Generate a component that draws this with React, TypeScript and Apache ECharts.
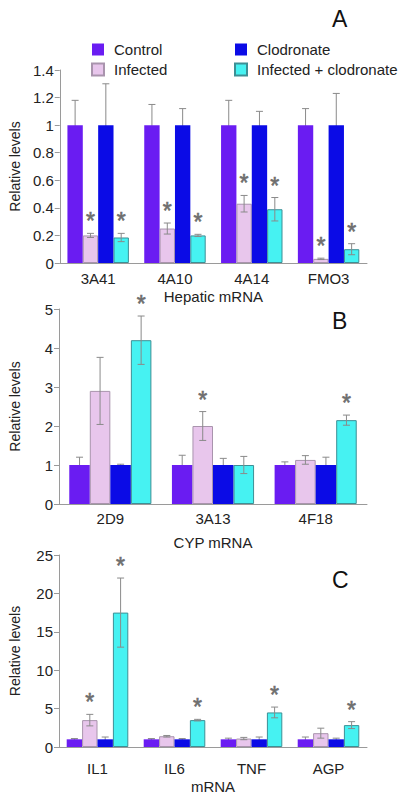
import React, { useEffect, useRef } from "react";
import * as echarts from "echarts";

const FONT = "Liberation Sans, Arial, Helvetica, sans-serif";

const seriesNames = ["Control", "Infected", "Clodronate", "Infected + clodronate"];
const colors = ["#6a1cf2", "#e8c6ec", "#0b0be6", "#46f2f2"];
const borders = ["#6a1cf2", "#a994ad", "#0b0be6", "#3d8f95"];

// Panel A
const catsA = ["3A41", "4A10", "4A14", "FMO3"];
const controlA = [1, 1, 1, 1];
const controlSdA = [0.18, 0.15, 0.18, 0.12];
const infectedA = [0.2, 0.25, 0.43, 0.03];
const infectedSdA = [0.015, 0.04, 0.06, 0.005];
const clodA = [1, 1, 1, 1];
const clodSdA = [0.3, 0.12, 0.1, 0.23];
const infClodA = [0.185, 0.2, 0.39, 0.1];
const infClodSdA = [0.03, 0.008, 0.085, 0.04];
const sigInfectedA = [1, 1, 1, 1];
const sigInfClodA = [1, 1, 1, 1];
const ticksA = { min: 0, max: 1.4, interval: 0.2 };

// Panel B
const catsB = ["2D9", "3A13", "4F18"];
const controlB = [1, 1, 1];
const controlSdB = [0.2, 0.25, 0.08];
const infectedB = [2.9, 2.0, 1.13];
const infectedSdB = [0.86, 0.37, 0.11];
const clodB = [1, 1, 1];
const clodSdB = [0.02, 0.17, 0.2];
const infClodB = [4.2, 1.0, 2.15];
const infClodSdB = [0.62, 0.22, 0.13];
const sigInfectedB = [0, 1, 0];
const sigInfClodB = [1, 0, 1];
const ticksB = { min: 0, max: 5, interval: 1 };

// Panel C
const catsC = ["IL1", "IL6", "TNF", "AGP"];
const controlC = [1, 1, 1, 1];
const controlSdC = [0.1, 0.1, 0.15, 0.3];
const infectedC = [3.5, 1.4, 1.1, 1.8];
const infectedSdC = [0.75, 0.1, 0.15, 0.65];
const clodC = [1, 1, 1, 1];
const clodSdC = [0.3, 0.1, 0.3, 0.15];
const infClodC = [17.5, 3.5, 4.5, 2.85];
const infClodSdC = [4.5, 0.1, 0.7, 0.45];
const sigInfectedC = [1, 0, 0, 0];
const sigInfClodC = [1, 1, 1, 1];
const ticksC = { min: 0, max: 25, interval: 5 };

const panels = [
  {
    letter: "A", cats: catsA, xName: "Hepatic mRNA", ticks: ticksA,
    vals: [controlA, infectedA, clodA, infClodA],
    sds: [controlSdA, infectedSdA, clodSdA, infClodSdA],
    sigs: [null, sigInfectedA, null, sigInfClodA],
    grid: { left: 52, right: 33, top: 70, height: 193 },
    labelMargin: 8, nameGap: 26, letterTop: 2,
  },
  {
    letter: "B", cats: catsB, xName: "CYP mRNA", ticks: ticksB,
    vals: [controlB, infectedB, clodB, infClodB],
    sds: [controlSdB, infectedSdB, clodSdB, infClodSdB],
    sigs: [null, sigInfectedB, null, sigInfClodB],
    grid: { left: 52, right: 33, top: 309, height: 195 },
    labelMargin: 7, nameGap: 31, letterTop: 304,
  },
  {
    letter: "C", cats: catsC, xName: "mRNA", ticks: ticksC,
    vals: [controlC, infectedC, clodC, infClodC],
    sds: [controlSdC, infectedSdC, clodSdC, infClodSdC],
    sigs: [null, sigInfectedC, null, sigInfClodC],
    grid: { left: 52, right: 33, top: 555, height: 195 },
    labelMargin: 14, nameGap: 32, letterTop: 563,
  },
];

const GAP = 0.2;

function errRender(params: any, api: any) {
  const cat = api.value(0);
  const v = api.value(1);
  const sd = api.value(2);
  const sig = api.value(3);
  const s = api.value(4);
  const band = api.size([1, 0])[0];
  const bw = (band * (1 - GAP)) / 4;
  const x = api.coord([cat, v])[0] + (s - 1.5) * bw;
  const yHi = api.coord([cat, v + sd])[1];
  const yLo = api.coord([cat, Math.max(0, v - sd)])[1];
  const cap = 3.5;
  const st = { stroke: "#8a8a8a", lineWidth: 1 };
  const children: any[] = [
    { type: "line", shape: { x1: x, y1: yLo, x2: x, y2: yHi }, style: st },
    { type: "line", shape: { x1: x - cap, y1: yHi, x2: x + cap, y2: yHi }, style: st },
    { type: "line", shape: { x1: x - cap, y1: yLo, x2: x + cap, y2: yLo }, style: st },
  ];
  if (sig) {
    children.push({
      type: "text",
      style: {
        text: "*", x: x, y: yHi - 12, align: "center", verticalAlign: "middle",
        fontSize: 23, fontFamily: FONT, fill: "#6e6e6e",
        stroke: "#6e6e6e", lineWidth: 0.6,
      },
    });
  }
  return { type: "group", children };
}

export default function App() {
  const ref = useRef<HTMLDivElement>(null);
  useEffect(() => {
    if (!ref.current) return;
    const chart = echarts.init(ref.current, null, { renderer: "svg" });
    const grids: any[] = [];
    const xAxes: any[] = [];
    const yAxes: any[] = [];
    const series: any[] = [];
    const titles: any[] = [];
    panels.forEach((p, pi) => {
      grids.push(p.grid);
      titles.push({
        text: p.letter, left: 327, top: p.letterTop,
        textStyle: { fontSize: 23, fontWeight: "normal", fontFamily: FONT, color: "#111" },
      });
      xAxes.push({
        type: "category", gridIndex: pi, data: p.cats,
        name: p.xName, nameLocation: "middle", nameGap: p.nameGap,
        nameTextStyle: { fontSize: 15, fontFamily: FONT, color: "#222" },
        axisLine: { lineStyle: { color: "#9a9a9a", width: 1 } },
        axisTick: { show: false },
        axisLabel: { fontSize: 15, fontFamily: FONT, color: "#222", margin: p.labelMargin },
      });
      yAxes.push({
        type: "value", gridIndex: pi, min: p.ticks.min, max: p.ticks.max, interval: p.ticks.interval,
        name: "Relative levels", nameLocation: "middle", nameRotate: 90, nameGap: 37,
        nameTextStyle: { fontSize: 14, fontFamily: FONT, color: "#222" },
        axisLine: { show: true, lineStyle: { color: "#9a9a9a", width: 1 } },
        axisTick: { show: true, length: 5, lineStyle: { color: "#9a9a9a" } },
        splitLine: { show: false },
        axisLabel: { fontSize: 15, fontFamily: FONT, color: "#222", margin: 6 },
      });
      const backData: any[] = [];
      const frontData: any[] = [];
      p.vals.forEach((vals, s) => {
        series.push({
          type: "bar", name: seriesNames[s], xAxisIndex: pi, yAxisIndex: pi,
          data: vals, barGap: "0%", barCategoryGap: GAP * 100 + "%",
          itemStyle: { color: colors[s], borderColor: borders[s], borderWidth: s % 2 === 1 ? 1 : 0 },
          z: 2,
        });
        vals.forEach((v, i) => {
          const sig = p.sigs[s] ? (p.sigs[s] as number[])[i] : 0;
          const row = [i, v, p.sds[s][i], sig, s];
          if (s % 2 === 1) frontData.push(row); else backData.push(row);
        });
      });
      series.push({
        type: "custom", xAxisIndex: pi, yAxisIndex: pi, renderItem: errRender,
        data: backData, encode: { x: 0, y: 1 }, z: 1, silent: true,
      });
      series.push({
        type: "custom", xAxisIndex: pi, yAxisIndex: pi, renderItem: errRender,
        data: frontData, encode: { x: 0, y: 1 }, z: 3, silent: true,
      });
    });
    const legendCommon = {
      orient: "vertical", itemWidth: 12, itemHeight: 12, itemGap: 5,
      icon: "rect",
      textStyle: { fontSize: 15, fontFamily: FONT, color: "#222", padding: [0, 0, 0, 5] },
    };
    chart.setOption({
      animation: false,
      backgroundColor: "#ffffff",
      title: titles,
      legend: [
        { ...legendCommon, left: 86, top: 37, data: ["Control", "Infected"] },
        { ...legendCommon, left: 229, top: 37, data: ["Clodronate", "Infected + clodronate"] },
      ],
      grid: grids,
      xAxis: xAxes,
      yAxis: yAxes,
      series,
    });
    return () => chart.dispose();
  }, []);
  return <div ref={ref} style={{ width: 400, height: 795, position: "absolute", left: 0, top: 0 }} />;
}
